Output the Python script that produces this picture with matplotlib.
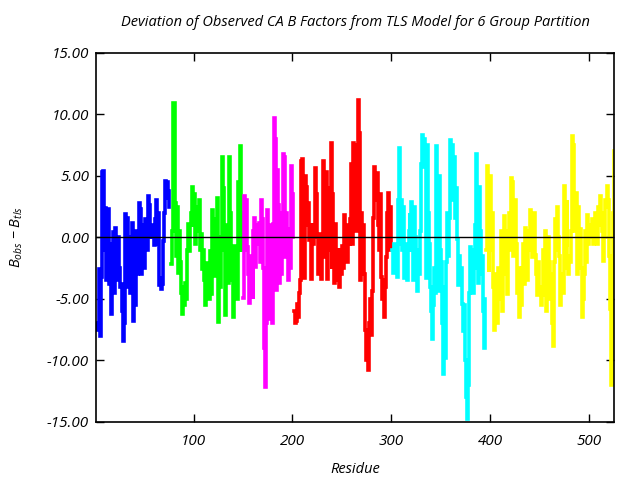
import numpy as np
import matplotlib
matplotlib.use("Agg")
import matplotlib.pyplot as plt

plt.rcParams['font.family'] = ['Open Sans', 'DejaVu Sans']
plt.rcParams['mathtext.fontset'] = 'custom'
plt.rcParams['mathtext.it'] = 'Open Sans:italic'
plt.rcParams['mathtext.rm'] = 'Open Sans:italic'

title = "Deviation of Observed CA B Factors from TLS Model for 6 Group Partition"
xlabel = "Residue"
ylabel = r"$B_{obs}$ $-$ $B_{tls}$"

group_starts = [2, 77, 150, 202, 301, 396]
group_colors = ["#0000ff", "#00ff00", "#ff00ff", "#ff0000", "#00ffff", "#ffff00"]

blue = [-7.0, -7.5,
        -7.4, -2.6, -8.0, -3.2, 5.3, 5.4, -1.0, 2.4, -3.5, 0.5,
        2.3, -3.8, -0.5, -6.2, -2.0, 0.4, -4.5, 0.8, -3.0, -3.5,
        0.0, -2.5, -4.0, -3.8, -6.0, -8.4, -7.0, 1.9, -4.0, 1.6,
        -2.0, 0.0, -4.5, -2.5, 1.2, -6.8, -1.0, -5.5, 0.5, -3.0,
        -1.5, 2.8, 2.3, -3.0, 1.0, 0.5, -2.5, 1.5, 0.2, -1.0,
        3.4, 2.6, 0.0, 1.0, 0.0, 0.8, -0.6, 1.5, 3.0, -0.5,
        2.0, -3.9, -3.3, -4.2, -3.8, -0.3, 2.0, 4.6, 3.2, 4.5, 3.8, 2.5]

green = [-2.2, 0.5, 10.9, 10.9, 9.0, 2.8, -1.5, 2.5, -2.9, 0.5,
         -2.0, -4.5, -6.2, -4.0, -5.5, -3.7, -5.0, -1.0, 1.1, -1.1,
         1.0, 2.0, 4.1, 1.0, 3.5, -0.5, 2.5, 1.5, 0.5, 3.0,
         -1.0, 0.3, -2.6, -1.0, -3.5, -5.5, -2.1, -4.5, -3.0, -5.0,
         -1.1, -4.6, 2.2, -2.0, 1.5, -3.1, 0.5, 3.2, -6.9, -2.0,
         -4.0, 0.0, 6.5, 4.0, -1.0, -6.3, -2.5, 1.0, -3.7, 6.5,
         2.0, -1.5, -3.5, -6.5, -0.7, -4.5, -2.5, -5.0, 4.5, -1.0,
         7.4, -1.0, 2.0]

magenta = [-4.9, 3.4, -1.0, 3.0, -0.8, -3.0, -5.3, -1.5, -4.5, -2.0,
           -5.0, 0.5, 1.6, -2.4, 0.0, 1.0, -0.5, 1.2, -2.0, 3.0,
           1.5, -2.5, -9.0, -12.2, -7.0, 2.2, -6.6, 1.0, -3.5, 0.0,
           -7.0, 1.1, 9.7, 8.0, -4.3, 5.5, 2.6, -3.7, -1.0, -3.0,
           2.0, 6.8, 6.5, -1.6, 2.0, 0.7, -3.5, -2.0, -2.5, 5.8, 3.5, 0.0]

red = [-6.0, -7.0, -6.8, -5.4, -6.5, -4.5, -3.5,
       6.2, 6.4, 0.5, -3.3, 5.0,
       4.1, 1.0, 2.8, -0.2, 1.0,
       -3.4, 1.0, -0.5, 0.0,
       5.6, 3.5, 0.0,
       -3.0, -1.0, 0.3, -3.4, -1.5,
       6.2, -1.6, 5.0,
       5.3, -3.4, 2.0, 4.0, -1.0,
       7.7, -2.6, 3.5, 0.5,
       -3.7, 1.1, -2.0, -3.5, -1.0,
       -4.0, -1.0, -3.0, -0.7, -2.5,
       1.8, -1.4, 0.5, -2.0, 1.0, -0.5, 1.5,
       6.0, -0.5, 7.7, 2.0, 6.5, 0.5, 7.5, 11.2,
       8.5, -3.5, 2.0,
       -2.5, 1.0, -3.0, -7.5, -10.0, -8.5, -10.8, -7.0,
       -5.0, -7.9, -4.4, 1.6, 5.7, 5.0, 3.0, 5.2, 1.0, -1.0,
       3.5, -3.2, -5.0, -3.5, -6.5, -4.0, -1.6, 2.0, 3.6, 1.0, -1.0, 2.5]

cyan = [-1.0, -2.9, -0.5, -2.5, -1.5,
        -3.2, 3.0, 7.3, -0.5, 3.0,
        -1.0, 2.5, -3.3, -0.5, -2.0,
        -3.5, -1.0,
        0.5, 2.0, -1.0, 2.9, 1.5, -3.5, 2.5,
        0.0, -2.0, -4.4, -1.0, -3.0,
        0.5, 6.0, 8.3, 5.7, 8.0, 6.5, -3.3, 7.5, 2.0, -0.5,
        -4.0, -6.0, -8.3, -5.5, -2.5, -4.5,
        7.4, 4.0, -4.4, 5.0, -1.0,
        -2.0, -7.0, -11.1, -4.0,
        -9.8, -2.0, 2.0, -1.5, 1.6, 7.9, 5.0, 7.5, 3.0, 6.5,
        1.6, 4.0, -0.1, -3.9, -1.5, -3.0, -2.5, -5.4, -7.6, -5.5,
        -10.0, -13.0, -14.8, -12.0, -4.5, -0.8, -3.0, -1.0, -4.5, -2.5,
        1.0, 6.8, 3.0, -3.7, 4.1, 0.5, -3.0, -1.5, -6.0, -9.0, -5.0]

yellow = [-1.0, 5.8, 4.0, -2.8, 3.5, 5.0, -1.0, 2.0, -4.0, -7.5,
          -6.5, -3.0, -7.0, -2.5, -5.0, -4.0, 0.5, -6.0, -3.0, 1.7,
          -2.0, 0.0, -4.6, 0.5, 2.0, -1.0, 4.8, 4.5, -1.5, 1.5,
          3.0, -0.5, -4.5, -2.5, -6.5, -4.0, -5.5, -2.5, -0.5, -3.8,
          0.8, -2.0, -3.5, 0.5, -1.0, 2.2, 0.5, -1.6, 1.5, 2.0,
          -1.4, -3.0, -4.7, -2.0, -4.5, -4.0, -5.5, -4.7, -1.0, -3.0,
          0.5, -6.0, -1.5, 0.0, -2.0, -5.0, -3.0, -7.0, -8.8, -2.0,
          1.5, -1.0, 2.5, 0.0, -1.5, -5.5, -3.0, -3.5, -4.5, 4.2,
          1.0, -0.6, 3.0, -2.5, -3.0, -1.5, -2.0, 0.5, 8.2, 7.5,
          0.5, 1.5, 3.6, -3.0, 2.5, -1.0, 0.7, -2.5, -6.5, -5.0,
          -3.0, 0.5, -2.0, 1.8, -0.5, 1.0, 0.8, 0.0, 1.5, -0.5,
          1.0, 2.0, 1.0, -0.5, 2.5, 1.0, 3.4, 2.0, 0.5, -1.9,
          0.0, 3.0, 2.5, 4.2, 3.0, -1.5, -5.8, -12.0, -8.0, 2.0, 7.0]

groups = [blue, green, magenta, red, cyan, yellow]

fig = plt.figure(figsize=(6.4, 4.8), dpi=100)
ax = fig.add_axes([0.150, 0.121, 0.810, 0.769])

for start, vals, col in zip(group_starts, groups, group_colors):
    x = np.arange(start, start + len(vals))
    ax.plot(x, vals, color=col, lw=2.6, drawstyle='steps-mid',
            solid_joinstyle='miter')

ax.axhline(0, color='black', lw=1.0, zorder=3)

ax.set_xlim(1, 526)
ax.set_ylim(-15, 15)
ax.set_xticks([100, 200, 300, 400, 500])
ax.set_yticks([-15, -10, -5, 0, 5, 10, 15])
ax.set_yticklabels([f"{v:.2f}" for v in [-15, -10, -5, 0, 5, 10, 15]])
ax.tick_params(direction='in', top=True, right=True, length=6, width=1,
               labelsize=11)
ax.tick_params(axis='x', pad=9)
ax.tick_params(axis='y', pad=5)
for lab in ax.get_xticklabels() + ax.get_yticklabels():
    lab.set_fontstyle('italic')
for sp in ax.spines.values():
    sp.set_linewidth(1.2)

ax.set_title(title, fontsize=10.5, style='italic', pad=19)
ax.set_xlabel(xlabel, fontsize=10.5, style='italic', labelpad=9)
ax.set_ylabel(ylabel, fontsize=10.5, labelpad=16)

fig.savefig("out.png", dpi=100)
